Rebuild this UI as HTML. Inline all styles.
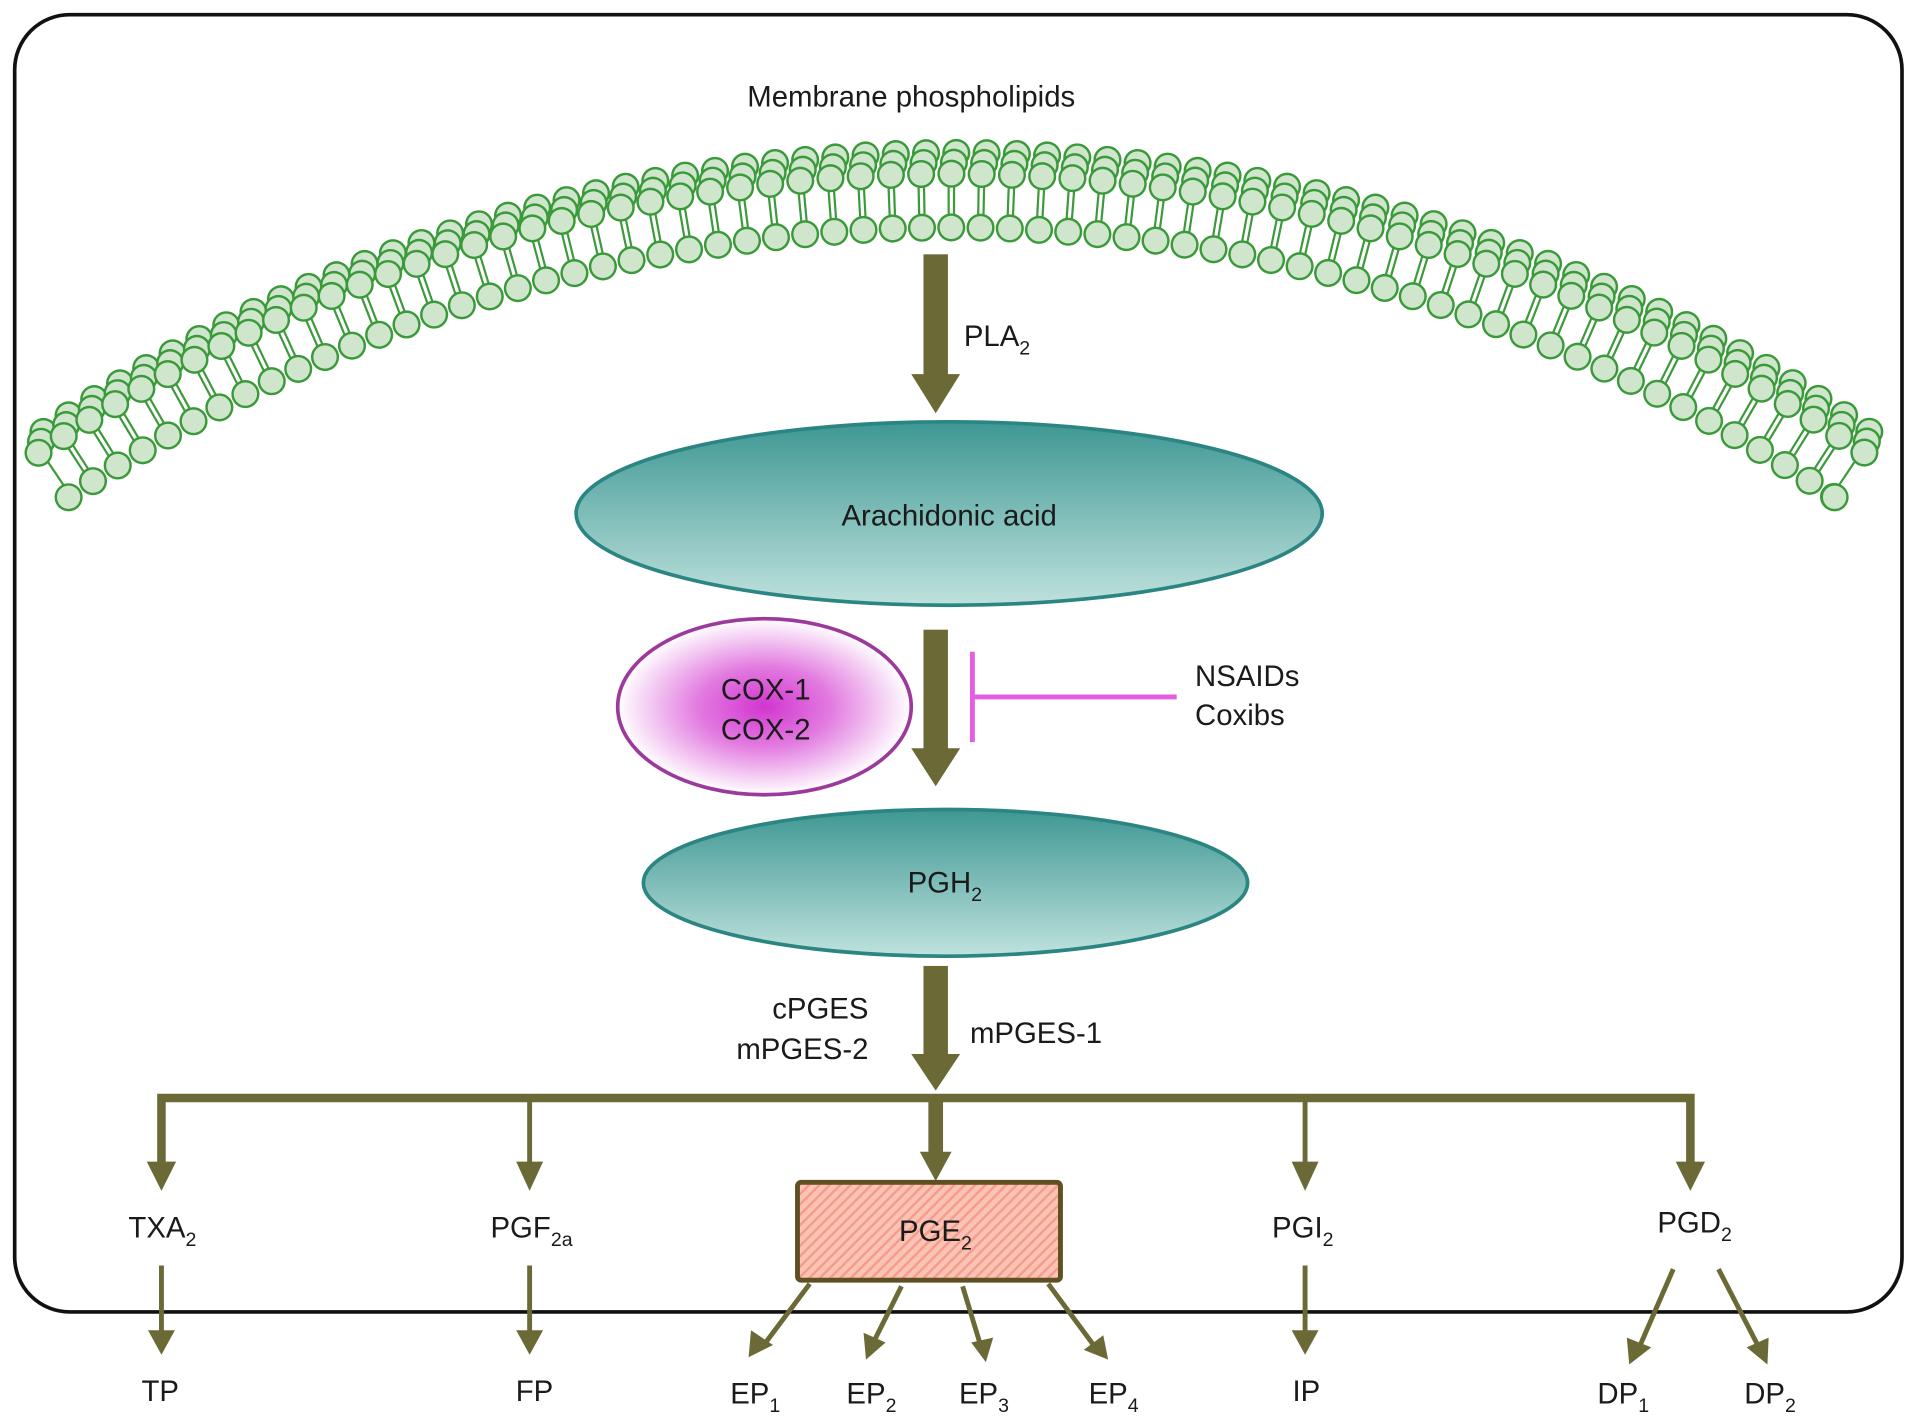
<!DOCTYPE html>
<html><head><meta charset="utf-8"><style>
html,body{margin:0;padding:0;background:#fff;}
svg{display:block;}
text{font-family:"Liberation Sans",Arial,sans-serif;fill:#1a1a1a;}
</style></head><body>
<svg width="1913" height="1422" viewBox="0 0 1564 1163" preserveAspectRatio="none" xmlns="http://www.w3.org/2000/svg">
<defs>
<linearGradient id="teal" x1="0" y1="0" x2="0" y2="1">
<stop offset="0" stop-color="#3e9794"/><stop offset="1" stop-color="#bfe2dd"/></linearGradient>
<radialGradient id="mag" cx="0.5" cy="0.5" r="0.5">
<stop offset="0" stop-color="#d236cf"/><stop offset="0.45" stop-color="#e27ae0"/><stop offset="1" stop-color="#ffffff"/></radialGradient>
<pattern id="hatch" width="6" height="6" patternUnits="userSpaceOnUse" patternTransform="rotate(45)">
<rect width="6" height="6" fill="#fbc3b5"/><rect width="2" height="6" fill="#f59c8a"/></pattern>
<path id="outer" d="M31.5,370.3 A1335,1335 0 0 1 1524.5,370.3" fill="none"/>
<path id="inner" d="M56.1,406.7 A1291,1291 0 0 1 1499.9,406.7" fill="none"/>
<path id="mid" d="M43.8,388.5 A1313,1313 0 0 1 1512.2,388.5" fill="none"/>
</defs>
<rect x="12" y="12" width="1543" height="1061" rx="45" fill="none" stroke="#111" stroke-width="3"/>
<g stroke-linecap="round">
<g transform="translate(4,-17)">
<use href="#outer" stroke="#3a9a3a" stroke-width="23" stroke-dasharray="0 24.75"/>
<use href="#outer" stroke="#cfe6cd" stroke-width="19" stroke-dasharray="0 24.75"/>
</g>
<g transform="translate(2,-9)">
<use href="#outer" stroke="#3a9a3a" stroke-width="23" stroke-dasharray="0 24.75"/>
<use href="#outer" stroke="#cfe6cd" stroke-width="19" stroke-dasharray="0 24.75"/>
</g>
<use href="#mid" stroke="#3c9a3c" stroke-width="26" stroke-linecap="butt" stroke-dasharray="1.8 2.6 1.8 18.14" stroke-dashoffset="3.1"/>
<use href="#inner" stroke="#3a9a3a" stroke-width="23" stroke-dasharray="0 23.93"/>
<use href="#inner" stroke="#cfe6cd" stroke-width="19" stroke-dasharray="0 23.93"/>
<use href="#outer" stroke="#3a9a3a" stroke-width="23" stroke-dasharray="0 24.75"/>
<use href="#outer" stroke="#cfe6cd" stroke-width="19" stroke-dasharray="0 24.75"/>
</g>
<circle cx="1499.9" cy="406.7" r="10.5" fill="#cfe6cd" stroke="#3a9a3a" stroke-width="2"/>
<text x="745" y="87" font-size="24" text-anchor="middle">Membrane phospholipids</text>
<g fill="#6b6a37">
<rect x="755" y="208" width="20" height="100"/><polygon points="745,306 785,306 765,338"/>
<rect x="755" y="515" width="20" height="100"/><polygon points="745,612 785,612 765,643"/>
<rect x="755" y="790" width="20" height="75"/><polygon points="745,862 785,862 765,892"/>
</g>
<text x="788" y="283" font-size="24">PLA<tspan font-size="16" dy="7">2</tspan></text>
<ellipse cx="776" cy="420" rx="305" ry="75" fill="url(#teal)" stroke="#2b8582" stroke-width="3"/>
<text x="776" y="430" font-size="24" text-anchor="middle">Arachidonic acid</text>
<ellipse cx="625" cy="578" rx="120" ry="72" fill="url(#mag)" stroke="#9b3a9b" stroke-width="3"/>
<text x="626" y="572" font-size="24" text-anchor="middle">COX-1</text>
<text x="626" y="605" font-size="24" text-anchor="middle">COX-2</text>
<g stroke="#e45ee2" stroke-width="4"><line x1="795" y1="570" x2="962" y2="570"/><line x1="795" y1="533" x2="795" y2="607"/></g>
<text x="977" y="561" font-size="24">NSAIDs</text>
<text x="977" y="593" font-size="24">Coxibs</text>
<ellipse cx="773" cy="722" rx="247" ry="60" fill="url(#teal)" stroke="#2b8582" stroke-width="3"/>
<text x="742" y="730" font-size="24">PGH<tspan font-size="16" dy="7">2</tspan></text>
<text x="710" y="833" font-size="24" text-anchor="end">cPGES</text>
<text x="710" y="866" font-size="24" text-anchor="end">mPGES-2</text>
<text x="793" y="853" font-size="24">mPGES-1</text>
<g stroke="#6b6a37" fill="none">
<polyline points="132,960 132,898 1382,898 1382,960" stroke-width="7"/>
<line x1="433" y1="898" x2="433" y2="960" stroke-width="4"/>
<line x1="1067" y1="898" x2="1067" y2="960" stroke-width="4"/>
<line x1="765" y1="898" x2="765" y2="950" stroke-width="12"/>
<g stroke-width="4">
<line x1="132" y1="1035" x2="132" y2="1095"/><line x1="433" y1="1035" x2="433" y2="1095"/><line x1="1067" y1="1035" x2="1067" y2="1095"/>
<line x1="662" y1="1050" x2="626" y2="1098"/><line x1="737" y1="1052" x2="714" y2="1098"/>
<line x1="787" y1="1052" x2="801" y2="1098"/><line x1="857" y1="1050" x2="894" y2="1100"/>
<line x1="1368" y1="1038" x2="1341" y2="1100"/><line x1="1405" y1="1038" x2="1437" y2="1100"/>
</g></g>
<g fill="#6b6a37">
<polygon points="120,950 144,950 132,974"/><polygon points="422,950 444,950 433,974"/>
<polygon points="1056,950 1078,950 1067,974"/><polygon points="1370,950 1394,950 1382,974"/>
<polygon points="752,942 778,942 765,966"/>
<polygon points="121,1088 143,1088 132,1108"/><polygon points="422,1088 444,1088 433,1108"/><polygon points="1056,1088 1078,1088 1067,1108"/>
<polygon points="614,1088 632,1100 612,1110"/><polygon points="706,1090 724,1098 708,1112"/>
<polygon points="794,1098 812,1094 806,1114"/><polygon points="886,1104 902,1092 906,1112"/>
<polygon points="1330,1094 1350,1102 1332,1116"/><polygon points="1428,1102 1446,1094 1445,1116"/>
</g>
<rect x="652" y="967" width="215" height="80" rx="3" fill="url(#hatch)" stroke="#5e5020" stroke-width="4"/>
<text x="735" y="1015" font-size="24">PGE<tspan font-size="16" dy="7">2</tspan></text>
<g font-size="24">
<text x="105" y="1012">TXA<tspan font-size="16" dy="7">2</tspan></text>
<text x="401" y="1012">PGF<tspan font-size="16" dy="7">2a</tspan></text>
<text x="1040" y="1012">PGI<tspan font-size="16" dy="7">2</tspan></text>
<text x="1355" y="1008">PGD<tspan font-size="16" dy="7">2</tspan></text>
<text x="131" y="1146" text-anchor="middle">TP</text>
<text x="437" y="1146" text-anchor="middle">FP</text>
<text x="597" y="1148">EP<tspan font-size="16" dy="7">1</tspan></text>
<text x="692" y="1148">EP<tspan font-size="16" dy="7">2</tspan></text>
<text x="784" y="1148">EP<tspan font-size="16" dy="7">3</tspan></text>
<text x="890" y="1148">EP<tspan font-size="16" dy="7">4</tspan></text>
<text x="1068" y="1146" text-anchor="middle">IP</text>
<text x="1306" y="1148">DP<tspan font-size="16" dy="7">1</tspan></text>
<text x="1426" y="1148">DP<tspan font-size="16" dy="7">2</tspan></text>
</g>
</svg>
</body></html>
